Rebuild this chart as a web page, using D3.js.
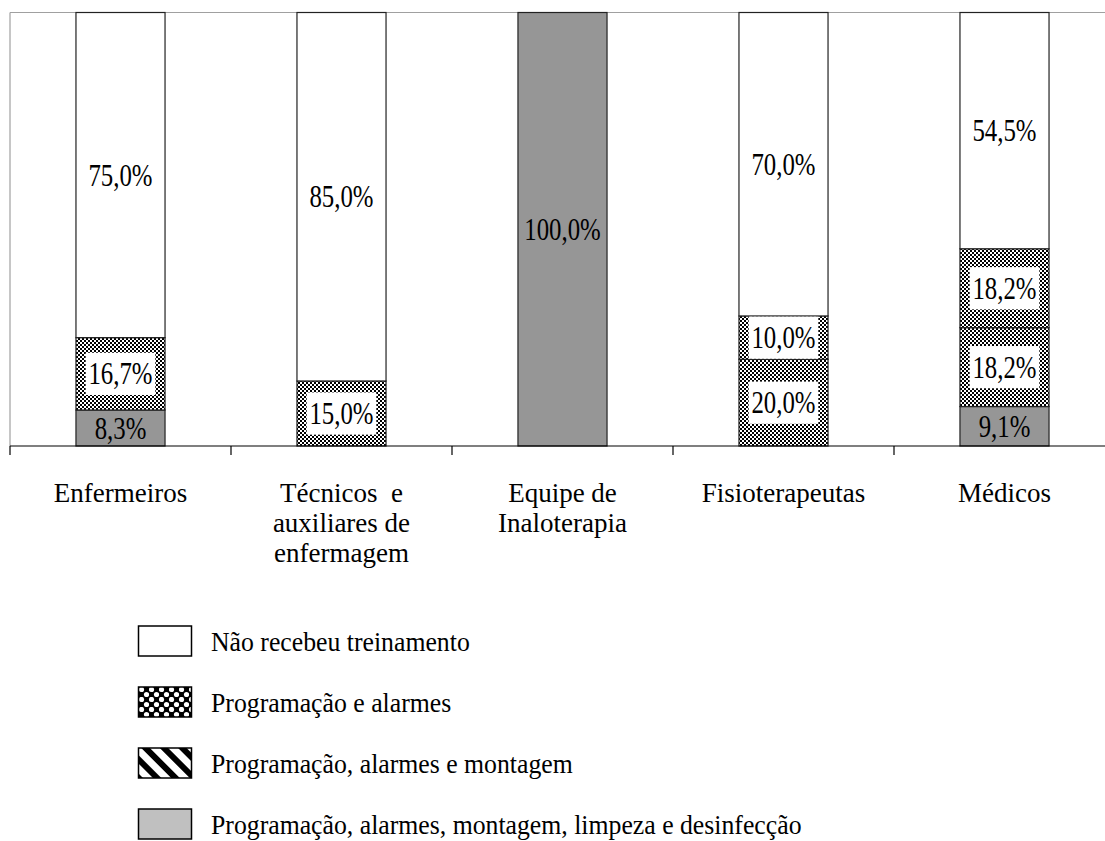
<!DOCTYPE html>
<html><head><meta charset="utf-8">
<script src="https://cdn.jsdelivr.net/npm/d3@7/dist/d3.min.js"></script></head>
<body style="margin:0">
<svg id="c" width="1105" height="841" style="font-family: 'Liberation Serif', serif"></svg>
<script>
// ---- data ----
const categories = ["Enfermeiros", "Técnicos e auxiliares de enfermagem", "Equipe de Inaloterapia", "Fisioterapeutas", "Médicos"];
const categoryLines = [["Enfermeiros"], ["Técnicos  e", "auxiliares de", "enfermagem"], ["Equipe de", "Inaloterapia"], ["Fisioterapeutas"], ["Médicos"]];
const seriesNames = ["Não recebeu treinamento", "Programação e alarmes", "Programação, alarmes e montagem", "Programação, alarmes, montagem, limpeza e desinfecção"];
const naoRecebeu = [75.0, 85.0, 0, 70.0, 54.5];
const progAlarmes = [16.7, 15.0, 0, 10.0, 18.2];
const progAlarmesMontagem = [0, 0, 0, 20.0, 18.2];
const completo = [8.3, 0, 100.0, 0, 9.1];

const FONT = '"Liberation Serif"';

const svg = d3.select("#c");
const defs = svg.append("defs");

// small checker used in the bars
const chk = defs.append("pattern").attr("id", "checker").attr("patternUnits", "userSpaceOnUse")
  .attr("width", 4).attr("height", 4);
chk.append("rect").attr("width", 4).attr("height", 4).attr("fill", "#fff");
chk.append("rect").attr("width", 2).attr("height", 2).attr("fill", "#000");
chk.append("rect").attr("x", 2).attr("y", 2).attr("width", 2).attr("height", 2).attr("fill", "#000");

// larger blotchy checker for legend
const chk2 = defs.append("pattern").attr("id", "checkerBig").attr("patternUnits", "userSpaceOnUse")
  .attr("width", 10).attr("height", 10).attr("x", 139).attr("y", 687);
chk2.append("rect").attr("width", 10).attr("height", 10).attr("fill", "#000");
chk2.append("circle").attr("cx", 2.5).attr("cy", 2.5).attr("r", 2.6).attr("fill", "#fff");
chk2.append("circle").attr("cx", 7.5).attr("cy", 7.5).attr("r", 2.6).attr("fill", "#fff");

// diagonal stripes for legend
const str = defs.append("pattern").attr("id", "stripes").attr("patternUnits", "userSpaceOnUse")
  .attr("width", 13).attr("height", 13).attr("patternTransform", "rotate(-45)");
str.append("rect").attr("width", 13).attr("height", 13).attr("fill", "#fff");
str.append("rect").attr("width", 6).attr("height", 13).attr("fill", "#000");

const barFills = ["#ffffff", "url(#checker)", "url(#checker)", "#969696"];
const legendFills = ["#ffffff", "url(#checkerBig)", "url(#stripes)", "#c0c0c0"];

const x = d3.scaleBand().domain(categories).range([10, 1115]).paddingInner(0.597).paddingOuter(0.2985);
const y = d3.scaleLinear().domain([0, 100]).range([446, 12.5]);

// plot area border (light gray), top and left
svg.append("line").attr("x1", 10).attr("x2", 1105).attr("y1", y(100)).attr("y2", y(100))
  .attr("stroke", "#a0a0a0").attr("stroke-width", 1.2);
svg.append("line").attr("x1", 10).attr("x2", 10).attr("y1", y(100)).attr("y2", y(0))
  .attr("stroke", "#a0a0a0").attr("stroke-width", 1.2);

// stack
const rows = categories.map((c, i) => ({
  cat: c,
  s3: completo[i], s2: progAlarmesMontagem[i], s1: progAlarmes[i], s0: naoRecebeu[i]
}));
const keys = ["s3", "s2", "s1", "s0"]; // bottom to top
const keyIndex = { s0: 0, s1: 1, s2: 2, s3: 3 };
const stacked = d3.stack().keys(keys)(rows);

const fmt = v => d3.format(".1f")(v).replace(".", ",") + "%";
const SX = 0.8;

const barG = svg.append("g");
stacked.forEach(layer => {
  const si = keyIndex[layer.key];
  layer.forEach(d => {
    const v = d[1] - d[0];
    if (v <= 0) return;
    barG.append("rect")
      .attr("x", x(d.data.cat)).attr("width", x.bandwidth())
      .attr("y", y(d[1])).attr("height", y(d[0]) - y(d[1]))
      .attr("fill", barFills[si]).attr("stroke", "#222").attr("stroke-width", 1.2);
  });
});

stacked.forEach(layer => {
  const si = keyIndex[layer.key];
  layer.forEach(d => {
    const v = d[1] - d[0];
    if (v <= 0) return;
    const cx = x(d.data.cat) + x.bandwidth() / 2;
    const cy = (y(d[0]) + y(d[1])) / 2;
    const g = svg.append("g").attr("transform", `translate(${cx},${cy}) scale(${SX},1)`);
    const t = g.append("text").attr("text-anchor", "middle").attr("dy", "0.34em")
      .attr("font-size", 31).style("font-family", FONT).text(fmt(v));
    if (si === 1 || si === 2) {
      const bb = t.node().getBBox();
      g.insert("rect", "text").attr("x", bb.x - 3.5).attr("y", bb.y - 4)
        .attr("width", bb.width + 7).attr("height", bb.height + 8).attr("fill", "#fff");
    }
  });
});

// x axis
const axisY = y(0);
svg.append("line").attr("x1", 10).attr("x2", 1105).attr("y1", axisY).attr("y2", axisY)
  .attr("stroke", "#000").attr("stroke-width", 1.2);
d3.range(categories.length + 1).forEach(i => {
  const tx = x.range()[0] + i * x.step();
  svg.append("line").attr("x1", tx).attr("x2", tx).attr("y1", axisY).attr("y2", axisY + 9)
    .attr("stroke", "#000").attr("stroke-width", 1.2);
});
categories.forEach((c, i) => {
  const cx = x(c) + x.bandwidth() / 2;
  categoryLines[i].forEach((ln, k) => {
    svg.append("text").attr("x", cx).attr("y", 502 + k * 30).attr("text-anchor", "middle")
      .attr("font-size", 27).style("font-family", FONT)
      .attr("xml:space", "preserve").text(ln);
  });
});

// legend
const legY = [626, 687, 748, 809];
seriesNames.forEach((n, i) => {
  svg.append("rect").attr("x", 138.5).attr("y", legY[i]).attr("width", 53).attr("height", 30)
    .attr("fill", legendFills[i]).attr("stroke", "#000").attr("stroke-width", 1.5);
  svg.append("g").attr("transform", `translate(211,${legY[i] + 25}) scale(0.92,1)`)
    .append("text").attr("font-size", 28).style("font-family", FONT).text(n);
});
</script>
</body>
</html>
